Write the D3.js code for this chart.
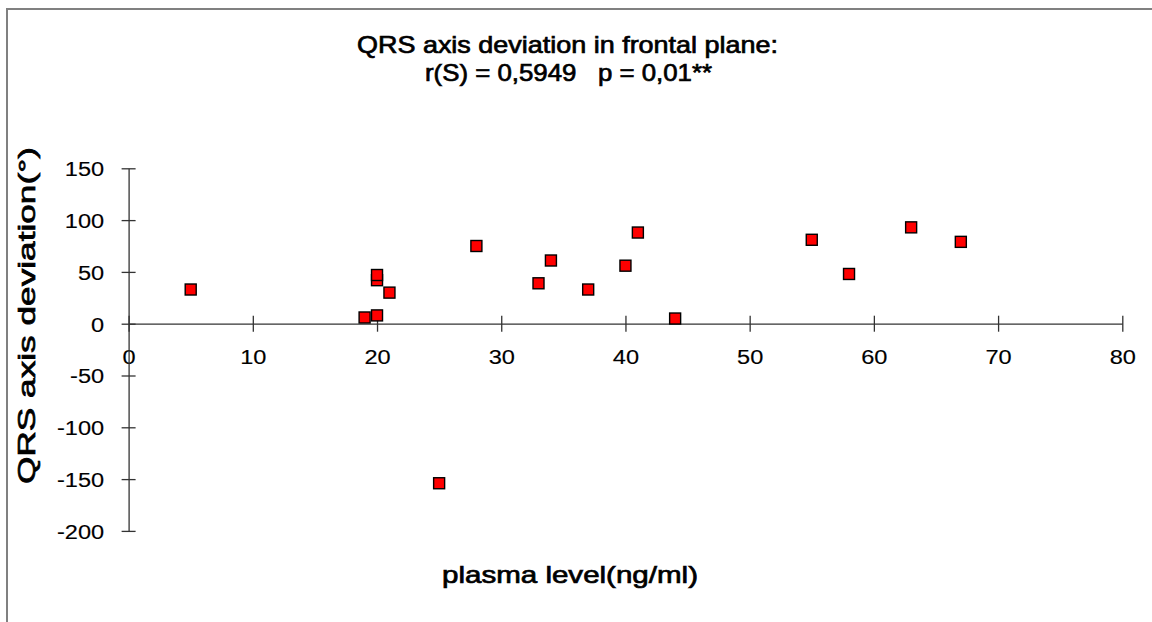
<!DOCTYPE html>
<html>
<head>
<meta charset="utf-8">
<script src="https://cdn.jsdelivr.net/npm/d3@7"></script>
<style>
  html, body { margin: 0; padding: 0; background: #fff; }
  svg { display: block; font-family: "Liberation Sans", Arial, sans-serif; }
  text { white-space: pre; }
</style>
</head>
<body>
<svg id="chart" width="1152" height="622"></svg>
<script>
// Patient data: plasma level (ng/ml) vs QRS axis deviation (degrees)
const plasmaLevel  = [5, 19, 20, 20, 20, 21, 25, 28, 33, 34, 37, 40, 41, 44, 55, 58, 63, 67];
const qrsDeviation = [33, 6, 8, 42, 47, 30, -154, 75, 39, 61, 33, 56, 88, 5, 81, 48, 93, 79];

const xTicks = [0, 10, 20, 30, 40, 50, 60, 70, 80];
const yTicks = [150, 100, 50, 0, -50, -100, -150, -200];

const titleLines = ["QRS axis deviation in frontal plane:", "r(S) = 0,5949   p = 0,01**"];
const xTitle = "plasma level(ng/ml)";
const yTitle = "QRS axis deviation(°)";

const svg = d3.select("#chart");
const fontStack = "Liberation Sans, Arial, sans-serif";
const labelFmt = d => String(d);   // plain hyphen for negatives

// frame lines (left and top)
svg.append("line").attr("x1", 7).attr("x2", 7).attr("y1", 8).attr("y2", 622)
  .attr("stroke", "#808080").attr("stroke-width", 2);
svg.append("line").attr("x1", 6).attr("x2", 1152).attr("y1", 9).attr("y2", 9)
  .attr("stroke", "#808080").attr("stroke-width", 2);

const x = d3.scaleLinear().domain([0, 80]).range([128.6, 1122.3]);
const y = d3.scaleLinear().domain([-200, 150]).range([530.9, 168.3]);

const y0 = y(0), x0 = x(0);

// x axis drawn through y = 0 with ticks crossing the line
const xAxis = d3.axisBottom(x).tickValues(xTicks).tickSize(0).tickFormat(labelFmt);
const gx = svg.append("g").attr("transform", `translate(0,${y0})`).call(xAxis);
gx.attr("font-size", null).attr("font-family", null);
gx.select(".domain").attr("stroke", "#333").attr("stroke-width", 1.3);
gx.selectAll(".tick line").attr("y1", -8).attr("y2", 8).attr("stroke", "#333").attr("stroke-width", 1.3);
gx.selectAll(".tick text").attr("x", 0).attr("y", 0).attr("dy", 0)
  .attr("transform", "translate(0,40.5) scale(1.15,1)")
  .attr("font-size", 20.5).attr("font-family", fontStack)
  .attr("fill", "#000").attr("stroke", "#000").attr("stroke-width", 0.15);

// y axis at x = 0
const yAxis = d3.axisLeft(y).tickValues(yTicks).tickSize(0).tickFormat(labelFmt);
const gy = svg.append("g").attr("transform", `translate(${x0},0)`).call(yAxis);
gy.attr("font-size", null).attr("font-family", null);
gy.select(".domain").attr("stroke", "#333").attr("stroke-width", 1.3);
gy.selectAll(".tick line").attr("x1", -7).attr("x2", 7).attr("stroke", "#333").attr("stroke-width", 1.3);
gy.selectAll(".tick text").attr("x", 0).attr("dy", "0.36em")
  .attr("transform", "translate(-24.5,0) scale(1.15,1)")
  .attr("font-size", 20.5).attr("font-family", fontStack)
  .attr("fill", "#000").attr("stroke", "#000").attr("stroke-width", 0.15);

// scatter markers
const ms = 11;
svg.append("g").selectAll("rect")
  .data(plasmaLevel.map((p, i) => ({ p, q: qrsDeviation[i] })))
  .join("rect")
  .attr("x", d => x(d.p) - ms / 2)
  .attr("y", d => y(d.q) - ms / 2)
  .attr("width", ms).attr("height", ms)
  .attr("fill", "#ff0000").attr("stroke", "#000").attr("stroke-width", 1.4);

// titles: regular weight, slightly thickened outline
const heavy = sel => sel.attr("font-size", 24).attr("text-anchor", "middle")
  .attr("fill", "#000").attr("stroke", "#000").attr("stroke-width", 0.7)
  .attr("lengthAdjust", "spacingAndGlyphs");

svg.append("text").call(heavy).attr("x", 567.5).attr("y", 53).attr("textLength", 421).text(titleLines[0]);
svg.append("text").call(heavy).attr("x", 568.5).attr("y", 80.5).attr("textLength", 287).text(titleLines[1]);

svg.append("text").call(heavy).attr("x", 570).attr("y", 583)
  .attr("textLength", 256).text(xTitle);

svg.append("text").call(heavy).attr("transform", `translate(35,315.5) rotate(-90)`)
  .attr("textLength", 337).text(yTitle);
</script>
</body>
</html>
